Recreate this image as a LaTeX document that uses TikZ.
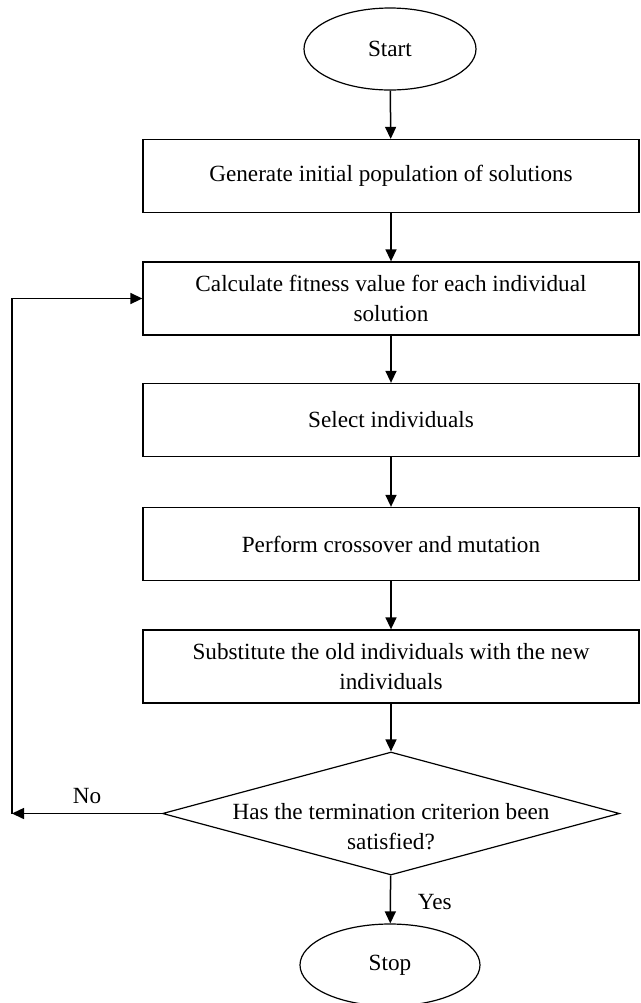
\documentclass[tikz,border=0pt]{standalone}
\usepackage{fontspec}
\setmainfont{Liberation Serif}
\usetikzlibrary{shapes.geometric,arrows.meta}

\begin{document}
\begin{tikzpicture}[
	x=0.5pt, y=-0.5pt,
	font=\fontsize{11.6}{15}\selectfont,
	term/.style={
		ellipse, draw=black, line width=0.6pt,
		minimum width=86pt, minimum height=41pt, inner sep=0pt
	},
	block/.style={
		rectangle, draw=black, line width=0.65pt,
		minimum width=248pt, minimum height=36.5pt, align=center
	},
	decision/.style={
		diamond, draw=black, line width=0.6pt, aspect=3.7,
		inner xsep=-60pt, inner ysep=0pt,
		minimum width=228.5pt, minimum height=61.5pt
	},
	line/.style={draw, line width=0.75pt, -{Triangle[length=6pt,width=5.5pt]}},
	]
	\useasboundingbox (0,0) rectangle (641,1003);

	\node [term] (start) at (390,49) {Start};
	\node [block] (init) at (391,176) {Generate initial population of solutions};
	\node [block] (fit) at (391,298.5) {Calculate fitness value for each individual\\solution};
	\node [block] (sel) at (391,420) {Select individuals};
	\node [block] (cross) at (391,544) {Perform crossover and mutation};
	\node [block] (subst) at (391,666.5) {Substitute the old individuals with the new\\individuals};
	\node [decision] (dec) at (391,813.5) {\raisebox{0pt}[25.5pt][19.5pt]{%
		\begin{tabular}[t]{@{}c@{}}Has the termination criterion been\\satisfied?\end{tabular}}};
	\node [term, minimum width=90pt] (stop) at (390,965) {Stop};
	\coordinate (back) at (12,813.5);

	\path [line] (start) -- (init);
	\path [line] (init) -- (fit);
	\path [line] (fit) -- (sel);
	\path [line] (sel) -- (cross);
	\path [line] (cross) -- (subst);
	\path [line] (subst) -- (dec);
	\path [line] (dec) -- node [right=10pt, pos=0.55] (yes) {Yes} (stop);
	\path [line] (dec.west) -- node [above=1pt, pos=0.5] (no) {No} (back);
	\path [line] (back) |- (fit.west);
\end{tikzpicture}
\end{document}
